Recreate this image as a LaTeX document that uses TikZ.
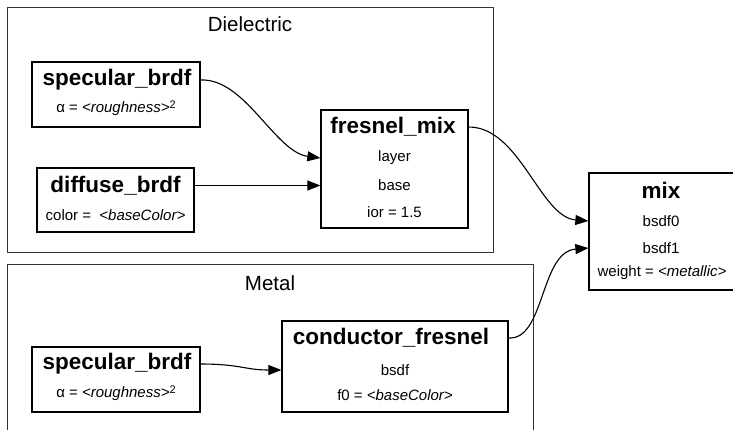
\documentclass[tikz,border=0pt]{standalone}
\usepackage{fontspec}
\setmainfont{Liberation Sans}
\usetikzlibrary{arrows.meta}
\newcommand{\sqtwo}{\raisebox{4.5pt}{\fontsize{11}{12}\selectfont 2}}
\begin{document}
\begin{tikzpicture}[x=1pt,y=-1pt,
  cluster/.style={draw=black!80,line width=1pt},
  nodebox/.style={draw=black,line width=1.3pt},
  clabel/.style={inner sep=0pt,font=\fontsize{20.5}{22}\selectfont},
  ttl/.style={inner sep=0pt,font=\fontsize{22.5}{24}\selectfont\bfseries},
  port/.style={inner sep=0pt,font=\fontsize{15}{16}\selectfont},
  edge/.style={line width=1.1pt,-{Triangle[length=13pt,width=10pt]}}]
\useasboundingbox (0,0) rectangle (733,429);
% clusters
\draw[cluster] (7,7) rectangle (493,252);
\node[clabel] (dlab) at (250,24) {Dielectric};
\draw[cluster] (7,264) rectangle (533,440);
\node[clabel] (mlab) at (270,283) {Metal};
% Dielectric specular_brdf
\node[nodebox,minimum width=168pt,minimum height=65pt,inner sep=0pt] (s1) at (116,94.5) {};
\node[ttl] (s1t) at (117,80) {specular\_brdf};
\node[port] (s1p) at (116,108) {α = \textit{<roughness>}\sqtwo};
% diffuse_brdf
\node[nodebox,minimum width=157pt,minimum height=64pt,inner sep=0pt] (d1) at (115.5,200) {};
\node[ttl] (d1t) at (115.5,185.5) {diffuse\_brdf};
\node[port] (d1p) at (115.5,215) {color = \ \textit{<baseColor>}};
% fresnel_mix
\node[nodebox,minimum width=147pt,minimum height=118pt,inner sep=0pt] (fm) at (394.5,169) {};
\node[ttl] (fmt) at (393,127) {fresnel\_mix};
\node[port] (fml) at (394.5,158) {layer};
\node[port] (fmb) at (394.5,185.5) {base};
\node[port] (fmi) at (394.5,212) {ior = 1.5};
% mix
\node[nodebox,minimum width=146pt,minimum height=117pt,inner sep=0pt] (mx) at (662,231.5) {};
\node[ttl] (mxt) at (661,190) {mix};
\node[port] (mx0) at (661,221) {bsdf0};
\node[port] (mx1) at (661,248) {bsdf1};
\node[port] (mxw) at (662,273) {weight = \textit{<metallic>}};
% Metal specular_brdf
\node[nodebox,minimum width=168pt,minimum height=65pt,inner sep=0pt] (s2) at (116,379.5) {};
\node[ttl] (s2t) at (117,364) {specular\_brdf};
\node[port] (s2p) at (116,393) {α = \textit{<roughness>}\sqtwo};
% conductor_fresnel
\node[nodebox,minimum width=226pt,minimum height=91pt,inner sep=0pt] (cf) at (395,366.5) {};
\node[ttl] (cft) at (391,338) {conductor\_fresnel};
\node[port] (cfb) at (395,370) {bsdf};
\node[port] (cff) at (395,395) {f0 = \textit{<baseColor>}};
% edges
\draw[edge] (s1.east |- s1t) .. controls (245,78) and (275,152) .. (fm.west |- fml);
\draw[edge] (d1.east |- d1t) -- (fm.west |- fmb);
\draw[edge] (fm.east |- fmt) .. controls (520,127) and (540,217) .. (mx.west |- mx0);
\draw[edge] (cf.east |- cft) .. controls (545,340) and (540,252) .. (mx.west |- mx1);
\draw[edge] (s2.east |- s2t) .. controls (240,364) and (245,370) .. (cf.west |- cfb);
\end{tikzpicture}
\end{document}
